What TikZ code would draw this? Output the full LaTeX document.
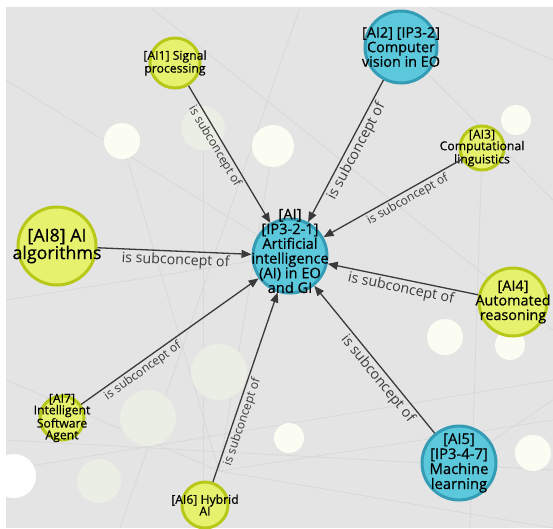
\documentclass[tikz,border=0pt]{standalone}
\usepackage{fontspec}
\setmainfont{Open Sans}
\newfontfamily\conceptfont{Open Sans}[FakeBold=0.5]
\usetikzlibrary{arrows.meta}

\definecolor{bggray}{RGB}{228,228,228}
\definecolor{aicyan}{RGB}{92,200,220}
\definecolor{aicyanline}{RGB}{52,156,180}
\definecolor{aiyellow}{RGB}{230,241,110}
\definecolor{aiyellowline}{RGB}{184,200,24}
\definecolor{edgegray}{RGB}{58,58,58}
\definecolor{fadeline}{RGB}{216,216,216}
\definecolor{creamdot}{RGB}{251,252,242}
\definecolor{paledot}{RGB}{234,238,228}

\newcommand{\fontsmall}{\conceptfont\fontsize{12.2}{11.7}\selectfont}
\newcommand{\fontbig}{\conceptfont\fontsize{14.4}{14.6}\selectfont}
\newcommand{\relsmall}{\fontsize{12}{12}\selectfont}
\newcommand{\relbig}{\fontsize{14.2}{14}\selectfont}

\begin{document}
\begin{tikzpicture}[x=1pt, y=-1pt,
    concept/.style={circle, inner sep=0pt, line width=3pt},
    bigc/.style={concept, draw=aicyanline, fill=aicyan},
    smallc/.style={concept, draw=aiyellowline, fill=aiyellow},
    ntext/.style={align=center, text=black, inner sep=0pt},
    subof/.style={-{Triangle[length=10pt,width=8pt]}, edgegray, line width=1.3pt},
    rel/.style={sloped, below, text=edgegray, inner sep=2pt},
  ]
    % Canvas: white margin top and left, gray board
    \useasboundingbox (0,0) rectangle (553,528);
    \fill[white] (0,0) rectangle (553,528);
    \fill[bggray] (6,7) rectangle (553,528);

    % Faded rest of the graph behind the selection
    \begin{scope}
      \clip (6,7) rectangle (553,528);
      \draw[fadeline, line width=0.8pt] (6,80) -- (290,255);
      \draw[fadeline, line width=0.8pt] (150,7) -- (553,330);
      \draw[fadeline, line width=0.8pt] (6,470) -- (553,380);
      \draw[fadeline, line width=0.8pt] (120,528) -- (300,7);
      \draw[fadeline, line width=0.8pt] (219,471) -- (6,380);
      \draw[fadeline, line width=0.8pt] (219,471) -- (553,420);
      \draw[fadeline, line width=0.8pt] (219,471) -- (273,146);
      \draw[fadeline, line width=0.8pt] (219,471) -- (122,141);
      \draw[fadeline, line width=0.8pt] (219,471) -- (553,528);
      \draw[fadeline, line width=0.8pt] (6,440) -- (553,470);
      \draw[fadeline, line width=0.8pt] (401,47) -- (553,200);
      \draw[fadeline, line width=0.8pt] (430,7) -- (553,60);
      \draw[fadeline, line width=0.8pt] (482,148) -- (470,528);
      \draw[fadeline, line width=0.8pt] (459,463) -- (553,400);
      \draw[fadeline, line width=0.8pt] (6,300) -- (290,255);
      \draw[fadeline, line width=0.8pt] (203,128) -- (203,528);
      % faded concepts
      \fill[paledot] (203,128) circle (22);
      \fill[paledot] (219,372) circle (28);
      \fill[paledot] (148,418) circle (28);
      \fill[paledot] (99,481) circle (22);
      \fill[creamdot] (122,141) circle (18);
      \fill[creamdot] (273,146) circle (21);
      \fill[creamdot] (516,120) circle (15);
      \fill[creamdot] (445,337) circle (18);
      \fill[creamdot] (510,345) circle (15);
      \fill[creamdot] (289,438) circle (15);
      \fill[creamdot] (533,453) circle (18);
      \fill[white] (14,476) circle (22);
    \end{scope}

    % Concepts
    \node[bigc, minimum size=74pt] (ai) at (290,256) {};
    \node[ntext, font=\conceptfont\fontsize{14.6}{14.7}\selectfont] (ai-t) at (290,251)
      {[AI]\\{[IP3-2-1]}\\Artificial\\intelligence\\(AI) in EO\\and GI};

    \node[smallc, minimum size=50pt] (ai1) at (175,63) {};
    \node[ntext, font=\fontsmall] (ai1-t) at (ai1) {[AI1] Signal\\processing};

    \node[bigc, minimum size=72pt] (ai2) at (401,47) {};
    \node[ntext, font=\fontbig] (ai2-t) at (ai2) {[AI2] [IP3-2]\\Computer\\vision in EO};

    \node[smallc, minimum size=44pt] (ai3) at (482,148) {};
    \node[ntext, font=\fontsmall] (ai3-t) at (ai3) {[AI3]\\Computational\\linguistics};

    \node[smallc, minimum size=68pt] (ai4) at (513,302) {};
    \node[ntext, font=\fontbig] (ai4-t) at (ai4) {[AI4]\\Automated\\reasoning};

    \node[bigc, minimum size=74pt] (ai5) at (459,463) {};
    \node[ntext, font=\conceptfont\fontsize{14.8}{15}\selectfont] (ai5-t) at (ai5)
      {[AI5]\\{[IP3-4-7]}\\Machine\\learning};

    \node[smallc, minimum size=46pt] (ai6) at (205,505) {};
    \node[ntext, font=\fontsmall] (ai6-t) at (ai6) {[AI6] Hybrid\\AI};

    \node[smallc, minimum size=44pt] (ai7) at (62,418) {};
    \node[ntext, font=\fontsmall] (ai7-t) at (ai7) {[AI7]\\Intelligent\\Software\\Agent};

    \node[smallc, minimum size=78pt] (ai8) at (57,246) {};
    \node[ntext, font=\conceptfont\fontsize{17.8}{17.5}\selectfont] (ai8-t) at (ai8) {[AI8] AI\\algorithms};

    % is subconcept of
    \draw[subof] (ai1) -- node[rel, pos=0.41, font=\relsmall] {is subconcept of} (ai);
    \draw[subof] (ai2) -- node[rel, pos=0.47, font=\relbig] {is subconcept of} (ai);
    \draw[subof] (ai3) -- node[rel, pos=0.42, font=\relsmall] {is subconcept of} (ai);
    \draw[subof] (ai8) -- node[rel, pos=0.51, font=\relbig] {is subconcept of} (ai);
    \draw[subof] (ai4) -- node[rel, pos=0.50, font=\relbig] {is subconcept of} (ai);
    \draw[subof] (ai5) -- node[rel, pos=0.41, font=\relbig] {is subconcept of} (ai);
    \draw[subof] (ai6) -- node[rel, pos=0.33, font=\relsmall] {is subconcept of} (ai);
    \draw[subof] (ai7) -- node[rel, pos=0.32, font=\relsmall] {is subconcept of} (ai);
\end{tikzpicture}
\end{document}
